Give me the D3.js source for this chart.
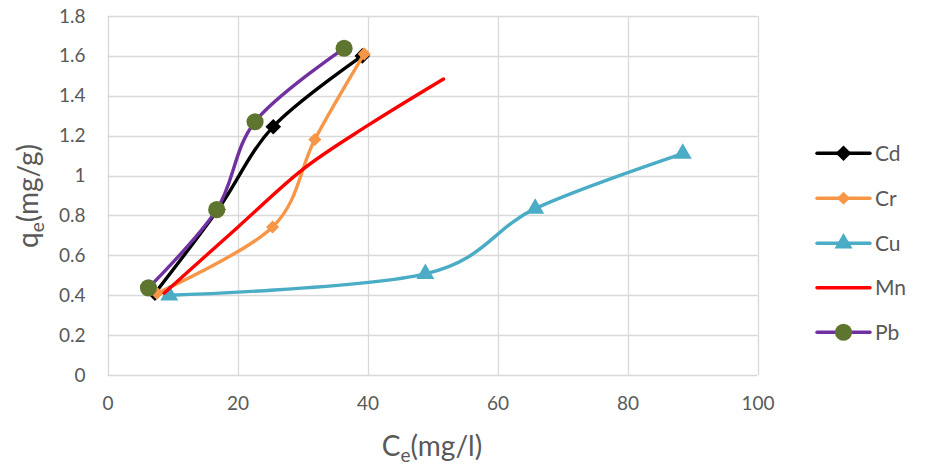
<!DOCTYPE html>
<html><head><meta charset="utf-8">
<script src="https://cdn.jsdelivr.net/npm/d3@7"></script>
<style>body{margin:0;background:#fff}svg{display:block}text{font-family:Lato,"Noto Sans",sans-serif;fill:#595959}</style>
</head><body><svg id="c" width="925" height="469"></svg>
<script>
const seriesNames = ["Cd","Cr","Cu","Mn","Pb"];
const cdX = [7.3, 17.0, 25.5, 39.2];
const cdY = [0.41, 0.83, 1.245, 1.60];
const crX = [7.6, 25.4, 31.9, 39.5];
const crY = [0.41, 0.742, 1.181, 1.61];
const cuX = [9.5, 48.9, 65.8, 88.5];
const cuY = [0.40, 0.507, 0.834, 1.11];
const mnX = [8.7, 20, 30, 40, 51.7];
const mnY = [0.41, 0.74, 1.03, 1.25, 1.484];
const pbX = [6.3, 16.8, 22.7, 36.4];
const pbY = [0.437, 0.829, 1.27, 1.638];
const xTicks = [0,20,40,60,80,100];
const yTicks = [0,0.2,0.4,0.6,0.8,1,1.2,1.4,1.6,1.8];

const svg = d3.select("#c");
const L=107.5,R=757.5,T=16,B=375;
const x = d3.scaleLinear().domain([0,100]).range([L,R]);
const y = d3.scaleLinear().domain([0,1.8]).range([B,T]);
const grid="#d9d9d9";

// gridlines
svg.append("g").selectAll("line").data(yTicks).join("line")
  .attr("x1",L).attr("x2",R).attr("y1",d=>Math.round(y(d))+0.5).attr("y2",d=>Math.round(y(d))+0.5)
  .attr("stroke",grid).attr("stroke-width",1.3);
svg.append("g").selectAll("line").data(xTicks).join("line")
  .attr("y1",T).attr("y2",B).attr("x1",d=>Math.round(x(d))+0.5).attr("x2",d=>Math.round(x(d))+0.5)
  .attr("stroke",grid).attr("stroke-width",1.3);

// tick labels via axes
const ya = svg.append("g").attr("transform",`translate(${L-22},0)`)
  .call(d3.axisLeft(y).tickValues(yTicks).tickSize(0).tickFormat(d=>d3.format("")(+d.toFixed(1))));
ya.select(".domain").remove();
ya.selectAll("text").attr("font-size",19).attr("fill","#595959").attr("font-family","Lato").attr("x",0);
const xa = svg.append("g").attr("transform",`translate(0,${B+18})`)
  .call(d3.axisBottom(x).tickValues(xTicks).tickSize(0));
xa.select(".domain").remove();
xa.selectAll("text").attr("font-size",19).attr("fill","#595959").attr("font-family","Lato");

// axis titles
const xt = svg.append("text").attr("x",432).attr("y",456).attr("text-anchor","middle").attr("font-size",28);
xt.append("tspan").text("C");
xt.append("tspan").attr("font-size",19).attr("dy",6).text("e");
xt.append("tspan").attr("dy",-6).text("(mg/l)");
const yt = svg.append("text").attr("transform","translate(38,196) rotate(-90)").attr("text-anchor","middle").attr("font-size",28);
yt.append("tspan").text("q");
yt.append("tspan").attr("font-size",19).attr("dy",6).text("e");
yt.append("tspan").attr("dy",-6).text("(mg/g)");

const series = [
  {name:"Cd", xs:cdX, ys:cdY, color:"#000000", marker:"diamond", mcolor:"#000000", msize:155},
  {name:"Cr", xs:crX, ys:crY, color:"#F79646", marker:"diamond", mcolor:"#F79646", msize:110},
  {name:"Cu", xs:cuX, ys:cuY, color:"#4BACC6", marker:"triangle", mcolor:"#4BACC6", msize:140},
  {name:"Mn", xs:mnX, ys:mnY, color:"#FF0000", marker:null},
  {name:"Pb", xs:pbX, ys:pbY, color:"#7030A0", marker:"circle", mcolor:"#5E7530", msize:230},
];
const line = d3.line().x(d=>x(d[0])).y(d=>y(d[1])).curve(d3.curveCardinal.tension(0));
const symType = {diamond:d3.symbolDiamond2, triangle:d3.symbolTriangle, circle:d3.symbolCircle};

series.forEach(s=>{
  const pts = s.xs.map((v,i)=>[v,s.ys[i]]);
  const g = svg.append("g");
  g.append("path").datum(pts).attr("d",line).attr("fill","none").attr("stroke",s.color)
    .attr("stroke-width",3.4).attr("stroke-linecap","round").attr("stroke-linejoin","round");
  if(s.marker){
    g.selectAll("path.m").data(pts).join("path").attr("class","m")
      .attr("transform",d=>`translate(${x(d[0])},${y(d[1])})`)
      .attr("d",d3.symbol().type(symType[s.marker]).size(s.msize))
      .attr("fill",s.mcolor);
  }
});

// legend
const lg = svg.append("g");
const rowY = [153.3,198.3,243.3,287.7,332.3];
series.forEach((s,i)=>{
  const yy=rowY[i];
  lg.append("line").attr("x1",817).attr("x2",870).attr("y1",yy).attr("y2",yy)
    .attr("stroke",s.color).attr("stroke-width",3.4).attr("stroke-linecap","round");
  if(s.marker){
    lg.append("path").attr("transform",`translate(843.5,${yy})`)
      .attr("d",d3.symbol().type(symType[s.marker]).size(s.msize)).attr("fill",s.mcolor);
  }
  lg.append("text").attr("x",875).attr("y",yy).attr("dy","0.36em").attr("font-size",21).text(s.name);
});
</script></body></html>
